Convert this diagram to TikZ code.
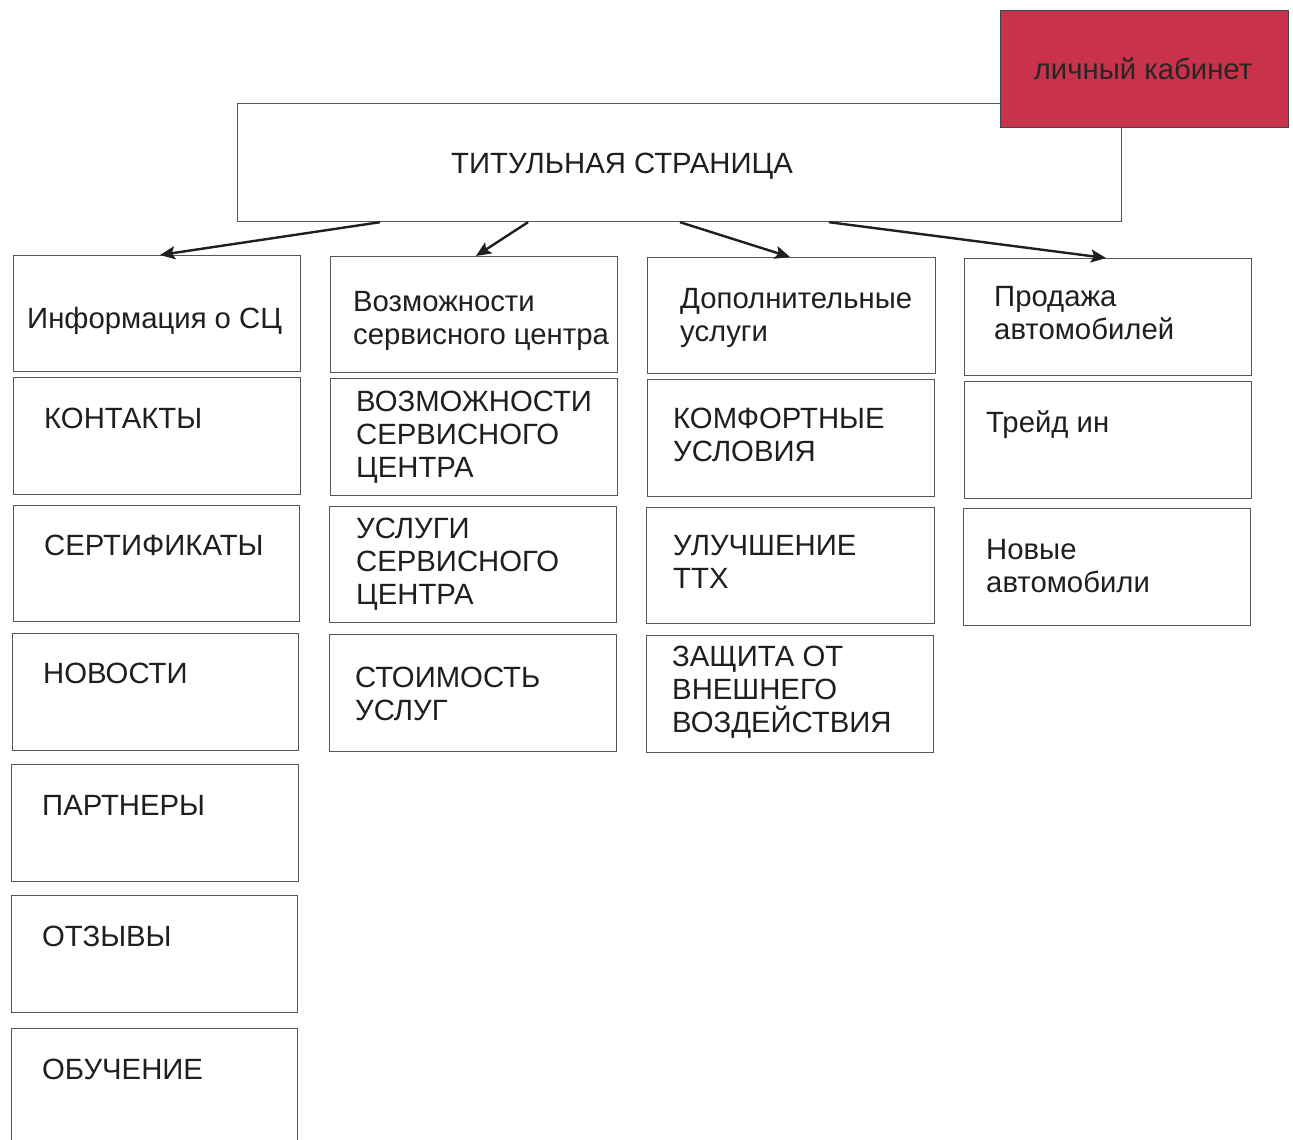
\documentclass[tikz,border=0pt]{standalone}
\usepackage{fontspec}
\setmainfont{Liberation Sans}
\usetikzlibrary{arrows.meta}
\definecolor{boxline}{RGB}{85,85,95}
\definecolor{cabred}{RGB}{200,50,74}
\definecolor{txt}{RGB}{30,30,35}
\tikzset{
  box/.style={draw=boxline, line width=1.2pt, fill=white, rectangle, inner sep=0pt, anchor=north west},
  lbl/.style={anchor=base west, inner sep=0pt, align=left, text=txt, font=\fontsize{29.3}{33}\selectfont},
  arr/.style={draw=txt, line width=2.4pt, -{Stealth[length=15pt,width=13pt,inset=3pt]}}
}
\newcommand{\mybox}[5]{\node[box, minimum width=#3pt, minimum height=#4pt] (#5) at (#1,#2) {};}
\begin{document}
\begin{tikzpicture}[x=1pt,y=-1pt]
\useasboundingbox[fill=white] (0,0) rectangle (1293,1140);
% title
\mybox{237}{103}{884}{118}{title}
\node[lbl, anchor=base] (titletxt) at (622,173) {ТИТУЛЬНАЯ СТРАНИЦА};
% cabinet
\node[box, fill=cabred, draw=boxline!80!black, minimum width=288pt, minimum height=117pt] (cab) at (1000,10) {};
\node[lbl, anchor=base, text=black!85] (cabtxt) at (1143,79) {личный кабинет};
% column 1
\mybox{13}{255}{287}{116}{h1}
\mybox{13}{377}{287}{117}{c1a}
\mybox{13}{505}{286}{116}{c1b}
\mybox{12}{633}{286}{117}{c1c}
\mybox{11}{764}{287}{117}{c1d}
\mybox{11}{895}{286}{117}{c1e}
\mybox{11}{1028}{286}{130}{c1f}
\node[lbl] (h1t) at (27,328) {Информация о СЦ};
\node[lbl] (c1at) at (44,428) {КОНТАКТЫ};
\node[lbl] (c1bt) at (44,555) {СЕРТИФИКАТЫ};
\node[lbl] (c1ct) at (43,683) {НОВОСТИ};
\node[lbl] (c1dt) at (42,815) {ПАРТНЕРЫ};
\node[lbl] (c1et) at (42,946) {ОТЗЫВЫ};
\node[lbl] (c1ft) at (42,1079) {ОБУЧЕНИЕ};
% column 2
\mybox{330}{256}{287}{116}{h2}
\mybox{330}{378}{287}{117}{c2a}
\mybox{329}{506}{287}{116}{c2b}
\mybox{329}{634}{287}{117}{c2c}
\node[lbl] (h2t) at (353,344) {Возможности\\сервисного центра};
\node[lbl] (c2at) at (356,477) {ВОЗМОЖНОСТИ\\СЕРВИСНОГО\\ЦЕНТРА};
\node[lbl] (c2bt) at (356,604) {УСЛУГИ\\СЕРВИСНОГО\\ЦЕНТРА};
\node[lbl] (c2ct) at (355,720) {СТОИМОСТЬ\\УСЛУГ};
% column 3
\mybox{647}{257}{288}{116}{h3}
\mybox{647}{379}{287}{117}{c3a}
\mybox{646}{507}{288}{116}{c3b}
\mybox{646}{635}{287}{117}{c3c}
\node[lbl] (h3t) at (680,341) {Дополнительные\\услуги};
\node[lbl] (c3at) at (673,461) {КОМФОРТНЫЕ\\УСЛОВИЯ};
\node[lbl] (c3bt) at (673,588) {УЛУЧШЕНИЕ\\ТТХ};
\node[lbl] (c3ct) at (672,732) {ЗАЩИТА ОТ\\ВНЕШНЕГО\\ВОЗДЕЙСТВИЯ};
% column 4
\mybox{964}{258}{287}{117}{h4}
\mybox{964}{381}{287}{117}{c4a}
\mybox{963}{508}{287}{117}{c4b}
\node[lbl] (h4t) at (994,339) {Продажа\\автомобилей};
\node[lbl] (c4at) at (986,432) {Трейд ин};
\node[lbl] (c4bt) at (986,592) {Новые\\автомобили};
% arrows
\draw[arr] ([xshift=143pt]title.south west) -- ([xshift=147pt]h1.north west);
\draw[arr] ([xshift=291pt]title.south west) -- ([xshift=146pt]h2.north west);
\draw[arr] ([xshift=443pt]title.south west) -- ([xshift=143pt]h3.north west);
\draw[arr] ([xshift=592pt]title.south west) -- ([xshift=142pt]h4.north west);
\end{tikzpicture}
\end{document}
